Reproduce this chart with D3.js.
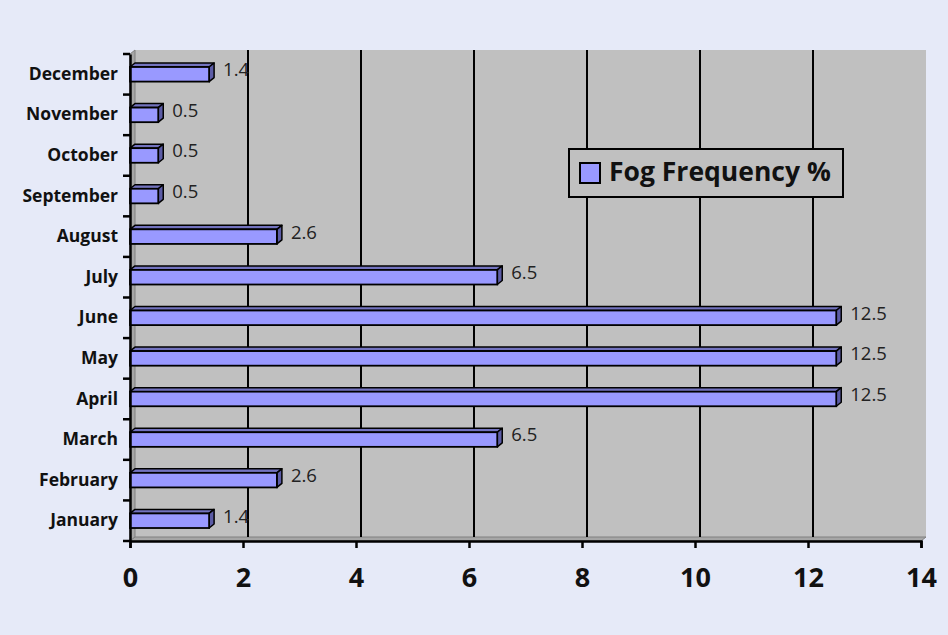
<!DOCTYPE html>
<html>
<head>
<meta charset="utf-8">
<script src="https://cdn.jsdelivr.net/npm/d3@7"></script>
<style>
  html, body { margin: 0; padding: 0; background: #E6EAF8; }
  svg { display: block; }
</style>
</head>
<body>
<svg id="chart" width="948" height="635"></svg>
<script>
// Monthly fog frequency (%)
const months = ["January", "February", "March", "April", "May", "June",
                "July", "August", "September", "October", "November", "December"];
const fogValues = [1.4, 2.6, 6.5, 12.5, 12.5, 12.5, 6.5, 2.6, 0.5, 0.5, 0.5, 1.4];
const xTicks = [0, 2, 4, 6, 8, 10, 12, 14];
const seriesName = "Fog Frequency %";

const data = months.map((m, i) => ({ month: m, value: fogValues[i] }));

const svg = d3.select("#chart");
const W = 948, H = 635;

svg.append("rect").attr("width", W).attr("height", H).attr("fill", "#E6EAF8");

// plot frame (front plane) and 3D depth offset
const pLeft = 130, pRight = 921, pTop = 54, pBottom = 541;
const dx = 5, dy = -4;

const x = d3.scaleLinear().domain([0, 14]).range([pLeft, pRight]);
const y = d3.scaleBand().domain(months.slice().reverse()).range([pTop, pBottom]);

const font = "'Open Sans', Lato, sans-serif";

// back wall
svg.append("rect")
  .attr("x", pLeft + dx).attr("y", pTop + dy)
  .attr("width", pRight - pLeft).attr("height", pBottom - pTop)
  .attr("fill", "#C0C0C0");

// side wall
svg.append("path")
  .attr("d", `M${pLeft},${pTop}L${pLeft + dx},${pTop + dy}L${pLeft + dx},${pBottom + dy}L${pLeft},${pBottom}Z`)
  .attr("fill", "#A6A6A6").attr("stroke", "#808080").attr("stroke-width", 1);

// floor
svg.append("path")
  .attr("d", `M${pLeft},${pBottom}L${pLeft + dx},${pBottom + dy}L${pRight + dx},${pBottom + dy}L${pRight},${pBottom}Z`)
  .attr("fill", "#A6A6A6").attr("stroke", "#808080").attr("stroke-width", 1);

// vertical gridlines on the back wall
svg.append("g")
  .selectAll("line")
  .data(xTicks.filter(t => t > 0 && t < 14))
  .join("line")
  .attr("x1", d => x(d) + dx).attr("x2", d => x(d) + dx)
  .attr("y1", pTop + dy).attr("y2", pBottom + dy)
  .attr("stroke", "#000").attr("stroke-width", 2);

// bars with top and side faces
const barH = y.bandwidth() * 0.36;
const bars = svg.append("g").selectAll("g").data(data).join("g");

bars.each(function (d) {
  const g = d3.select(this);
  const cy = y(d.month) + y.bandwidth() / 2;
  const y0 = cy - barH / 2, y1 = cy + barH / 2;
  const x0 = x(0), x1 = x(d.value);
  // top face
  g.append("path")
    .attr("d", `M${x0},${y0}L${x0 + dx},${y0 + dy}L${x1 + dx},${y0 + dy}L${x1},${y0}Z`)
    .attr("fill", "#7373BF").attr("stroke", "#000").attr("stroke-width", 1.5)
    .attr("stroke-linejoin", "round");
  // side face
  g.append("path")
    .attr("d", `M${x1},${y0}L${x1 + dx},${y0 + dy}L${x1 + dx},${y1 + dy}L${x1},${y1}Z`)
    .attr("fill", "#5C5CA6").attr("stroke", "#000").attr("stroke-width", 1.5)
    .attr("stroke-linejoin", "round");
  // front face
  g.append("rect")
    .attr("x", x0).attr("y", y0).attr("width", x1 - x0).attr("height", barH)
    .attr("fill", "#9999FF").attr("stroke", "#000").attr("stroke-width", 1.8);
  // value label
  g.append("text")
    .attr("x", x1 + dx + 9).attr("y", cy - 3)
    .attr("dominant-baseline", "middle")
    .attr("font-family", font).attr("font-size", 18.5).attr("fill", "#222")
    .text(d.value);
});

// y axis
const yAxis = d3.axisLeft(y).tickSize(0).tickPadding(12);
const gy = svg.append("g").attr("transform", `translate(${pLeft},0)`).call(yAxis);
gy.select(".domain").attr("stroke", "#000").attr("stroke-width", 2.5);
gy.selectAll("text")
  .attr("font-family", font).attr("font-weight", "bold")
  .attr("font-size", 17.5).attr("fill", "#111");

// category boundary ticks
const bounds = months.map((m, i) => pTop + i * y.step()).concat([pBottom]);
svg.append("g").selectAll("line").data(bounds).join("line")
  .attr("x1", pLeft - 7).attr("x2", pLeft)
  .attr("y1", d => d).attr("y2", d => d)
  .attr("stroke", "#000").attr("stroke-width", 2.5);

// x axis
const xAxis = d3.axisBottom(x).tickValues(xTicks).tickSize(7).tickPadding(20);
const gx = svg.append("g").attr("transform", `translate(0,${pBottom})`).call(xAxis);
gx.select(".domain").attr("stroke", "#000").attr("stroke-width", 2.5);
gx.selectAll(".tick line").attr("stroke", "#000").attr("stroke-width", 2.5);
gx.selectAll("text")
  .attr("font-family", font).attr("font-weight", "bold")
  .attr("font-size", 27).attr("fill", "#111");

// legend
const legend = svg.append("g").attr("transform", "translate(569,149)");
legend.append("rect")
  .attr("width", 274).attr("height", 48)
  .attr("fill", "#C0C0C0").attr("stroke", "#000").attr("stroke-width", 2);
legend.append("rect")
  .attr("x", 11).attr("y", 14).attr("width", 20).attr("height", 20)
  .attr("fill", "#9999FF").attr("stroke", "#000").attr("stroke-width", 2);
legend.append("text")
  .attr("x", 40).attr("y", 25).attr("dominant-baseline", "middle")
  .attr("font-family", font).attr("font-weight", "bold")
  .attr("font-size", 26.5).attr("fill", "#111")
  .text(seriesName);
</script>
</body>
</html>
